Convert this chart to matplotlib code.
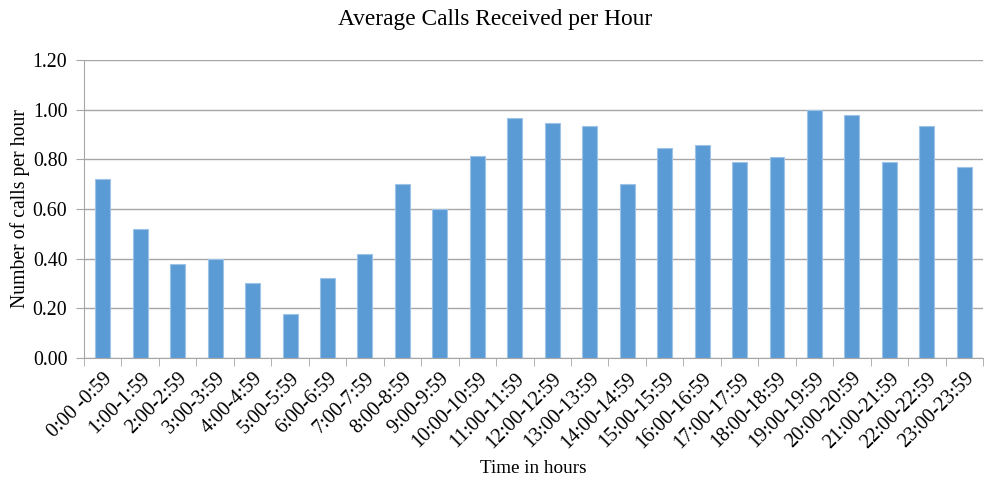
import matplotlib.pyplot as plt
import numpy as np

plt.rcParams['font.family'] = ['Liberation Serif', 'DejaVu Serif']

hours = ['0:00 -0:59', '1:00-1:59', '2:00-2:59', '3:00-3:59', '4:00-4:59',
         '5:00-5:59', '6:00-6:59', '7:00-7:59', '8:00-8:59', '9:00-9:59',
         '10:00-10:59', '11:00-11:59', '12:00-12:59', '13:00-13:59',
         '14:00-14:59', '15:00-15:59', '16:00-16:59', '17:00-17:59',
         '18:00-18:59', '19:00-19:59', '20:00-20:59', '21:00-21:59',
         '22:00-22:59', '23:00-23:59']
calls = [0.72, 0.52, 0.378, 0.40, 0.30, 0.177, 0.32, 0.42, 0.70, 0.60,
         0.811, 0.968, 0.946, 0.935, 0.70, 0.845, 0.856, 0.79, 0.81, 1.00,
         0.98, 0.79, 0.935, 0.767]
yticks = [0.0, 0.2, 0.4, 0.6, 0.8, 1.0, 1.2]

fig = plt.figure(figsize=(9.85, 4.83), dpi=100)
ax = fig.add_axes([0.0853, 0.259, 0.9127, 0.617])

x = np.arange(len(hours))
ax.bar(x, calls, width=0.4, color='#5B9BD5', edgecolor='#9DC3E6', linewidth=0.8, zorder=3)

ax.set_xlim(-0.5, len(hours) - 0.5)
ax.set_ylim(0, 1.2)
ax.set_yticks(yticks)
ax.set_yticklabels(['%.2f' % v for v in yticks], fontsize=14.3)
ax.yaxis.grid(True, color='#A6A6A6', linewidth=1, zorder=0)

ax.set_xticks(x)
ax.set_xticklabels(hours, rotation=45, ha='right', rotation_mode='anchor', fontsize=14.5)
ax.set_xticks(np.arange(-0.5, len(hours)), minor=True)
ax.tick_params(axis='x', which='major', length=0, pad=8)
ax.tick_params(axis='x', which='minor', length=6, color='#A6A6A6')
ax.tick_params(axis='y', length=6, color='#A6A6A6', pad=6)

for s in ['top', 'right']:
    ax.spines[s].set_visible(False)
for s in ['left', 'bottom']:
    ax.spines[s].set_color('#A6A6A6')
    ax.spines[s].set_zorder(4)

fig.text(0.503, 0.96, 'Average Calls Received per Hour', fontsize=16.8,
         ha='center', va='center')
ax.set_ylabel('Number of calls per hour', fontsize=14.2)
ax.yaxis.set_label_coords(-0.06, 0.5)
ax.set_xlabel('Time in hours', fontsize=13.8, labelpad=6)

fig.savefig('out.png', dpi=100)
